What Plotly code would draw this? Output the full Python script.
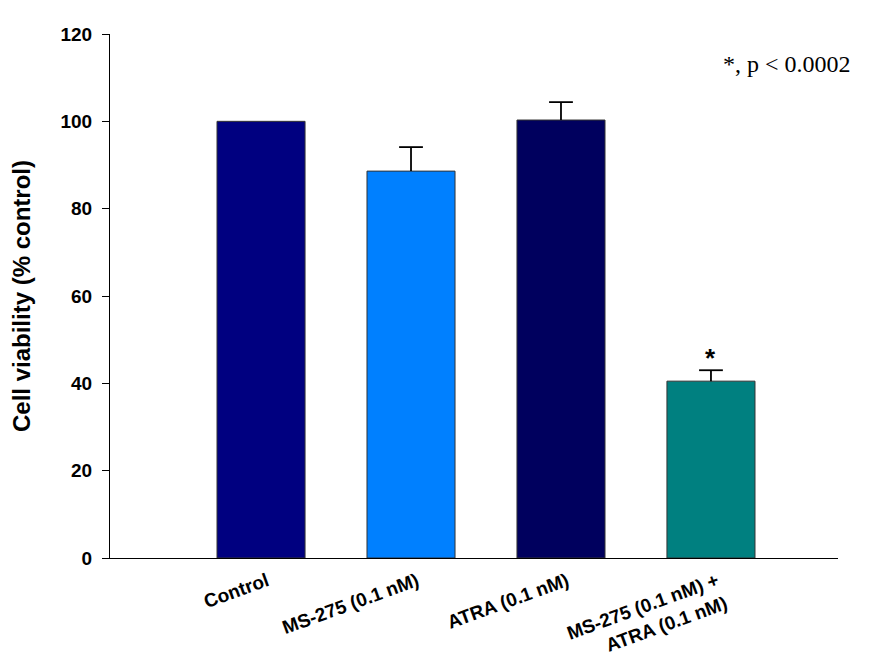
import plotly.graph_objects as go

categories = ["Control", "MS-275 (0.1 nM)", "ATRA (0.1 nM)", "MS-275 (0.1 nM) +<br>ATRA (0.1 nM)"]
viability = [100.0, 88.6, 100.3, 40.5]
sem = [0.0, 5.5, 4.1, 2.5]
bar_colors = ["#000080", "#0080FF", "#00005E", "#008080"]
y_ticks = [0, 20, 40, 60, 80, 100, 120]

x_pos = list(range(len(categories)))

fig = go.Figure()

fig.add_trace(
    go.Bar(
        x=x_pos,
        y=viability,
        width=0.587,
        marker=dict(color=bar_colors, line=dict(color="#333", width=1)),
        showlegend=False,
        hoverinfo="skip",
    )
)

# upper-only error bars: stems + caps
stem_x, stem_y, cap_x, cap_y = [], [], [], []
for xi, v, e in zip(x_pos, viability, sem):
    if e <= 0:
        continue
    stem_x += [xi, xi, None]
    stem_y += [v, v + e, None]
    cap_x.append(xi)
    cap_y.append(v + e)

fig.add_trace(
    go.Scatter(
        x=stem_x, y=stem_y, mode="lines",
        line=dict(color="black", width=1.8),
        showlegend=False, hoverinfo="skip",
    )
)
fig.add_trace(
    go.Scatter(
        x=cap_x, y=cap_y, mode="markers",
        marker=dict(symbol="line-ew", size=17, line=dict(color="black", width=1.8)),
        showlegend=False, hoverinfo="skip",
    )
)

# significance star above the combination bar
fig.add_annotation(
    x=x_pos[3], y=viability[3] + sem[3],
    text="<b>*</b>", showarrow=False, yshift=12,
    font=dict(family="Liberation Sans", size=26, color="black"),
)

fig.add_annotation(
    xref="paper", yref="paper", x=1.02, y=0.943,
    xanchor="right", yanchor="middle", text="*, p < 0.0002", showarrow=False,
    font=dict(family="Liberation Serif", size=24, color="black"),
)

fig.update_layout(
    width=870,
    height=654,
    margin=dict(l=102, r=40, t=26, b=104),
    paper_bgcolor="white",
    plot_bgcolor="white",
    font=dict(family="Liberation Sans", color="black"),
    xaxis=dict(
        range=[-1.007, 3.847],
        tickvals=x_pos,
        ticktext=["<b>%s</b>" % c for c in categories],
        tickangle=-20,
        tickfont=dict(size=19, family="Liberation Sans"),
        ticklabelshift=6,
        ticklabelstandoff=4,
        showgrid=False,
        zeroline=False,
        showline=True,
        linecolor="black",
        linewidth=1,
        ticks="",
        automargin=False,
    ),
    yaxis=dict(
        range=[0, 120],
        tickvals=y_ticks,
        ticktext=["<b>%d</b>" % t for t in y_ticks],
        tickfont=dict(size=19, family="Liberation Sans"),
        ticklabelstandoff=6,
        title=dict(text="<b>Cell viability (% control)</b>",
                   font=dict(size=24, family="Liberation Sans"), standoff=24),
        showgrid=False,
        zeroline=False,
        showline=True,
        linecolor="black",
        linewidth=1,
        ticks="outside",
        ticklen=7,
        tickcolor="black",
        automargin=False,
    ),
)

fig.write_html("out.html")
